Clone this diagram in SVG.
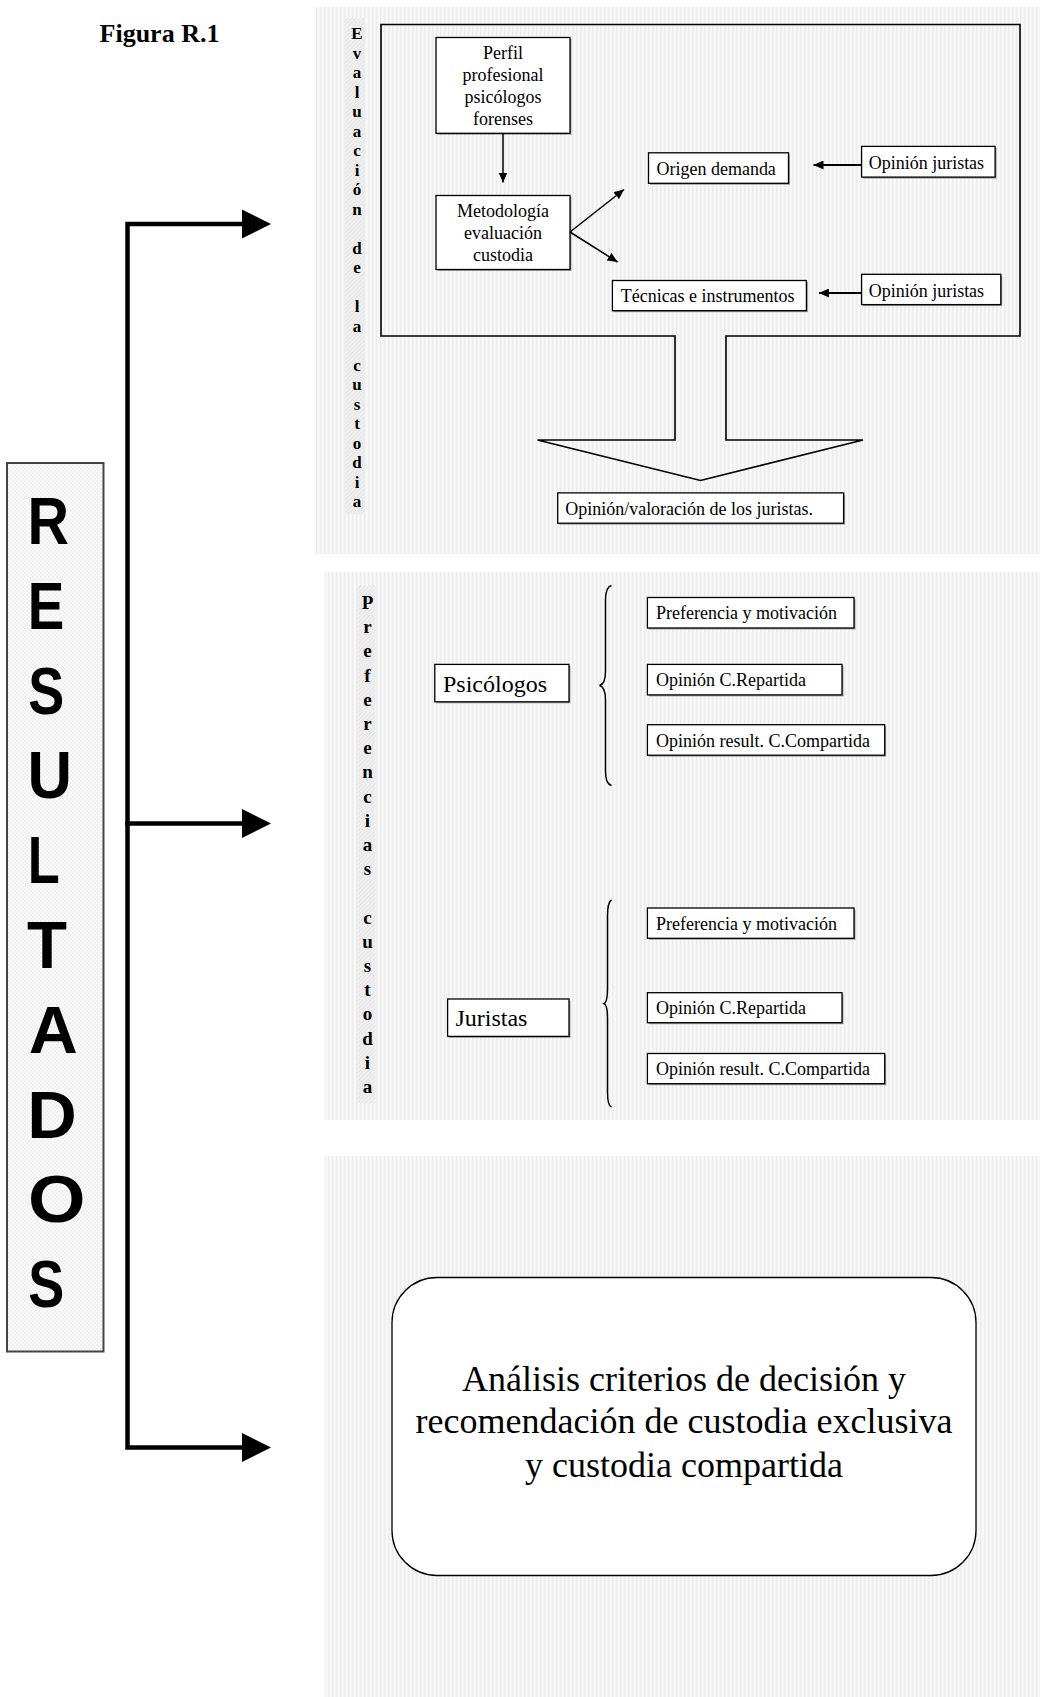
<svg xmlns="http://www.w3.org/2000/svg" width="1040" height="1697" viewBox="0 0 1040 1697">
<style>
.bg{fill:url(#stripes)}
.strip{fill:url(#hatch)}
.box{fill:#ffffff;stroke:#000;stroke-width:1.3}
.sh{fill:#a0a0a0}
.ln{fill:none;stroke:#000;stroke-width:1.5}
.lnt{fill:none;stroke:#000;stroke-width:2}
.thick{fill:none;stroke:#000;stroke-width:4.5;stroke-linejoin:miter;stroke-linecap:square}
.t{font-family:"Liberation Serif","Times New Roman",serif;font-size:18px;fill:#000}
.tb{font-family:"Liberation Serif","Times New Roman",serif;font-weight:bold;fill:#000}
.big{font-family:"Liberation Serif","Times New Roman",serif;font-size:24px;fill:#000}
.huge{font-family:"Liberation Serif","Times New Roman",serif;font-size:36px;fill:#000}
.res{font-family:"Liberation Sans",Arial,sans-serif;font-weight:bold;font-size:66px;fill:#000}
</style>
<defs>
<pattern id="stripes" width="4" height="4" patternUnits="userSpaceOnUse"><rect width="4" height="4" fill="#f7f7f7"/><rect width="1.5" height="4" fill="#ededed"/></pattern>
<pattern id="hatch" width="3" height="3" patternUnits="userSpaceOnUse" patternTransform="rotate(45)"><rect width="3" height="3" fill="#efefef"/><rect width="1" height="3" fill="#e6e6e6"/></pattern>
<pattern id="dots" width="4" height="4" patternUnits="userSpaceOnUse"><rect width="4" height="4" fill="#fcfcfc"/><circle cx="1" cy="1" r="0.8" fill="#e0e0e0"/><circle cx="3" cy="3" r="0.8" fill="#e0e0e0"/></pattern>
<marker id="ah" markerUnits="userSpaceOnUse" markerWidth="11" markerHeight="9" refX="10" refY="4.5" orient="auto"><path d="M0,0 L10,4.5 L0,9 Z" fill="#000"/></marker>
</defs>

<rect width="1040" height="1697" fill="#ffffff"/>

<g id="title">
<text class="tb" x="159.5" y="42" font-size="26" text-anchor="middle">Figura R.1</text>
</g>

<g id="resultados">
<rect x="7" y="463" width="96.5" height="888.5" fill="url(#dots)" stroke="#444" stroke-width="2"/>
<text class="res" x="48.2" y="544" text-anchor="middle" textLength="41.5" lengthAdjust="spacingAndGlyphs">R</text>
<text class="res" x="45.9" y="628.8" text-anchor="middle" textLength="36.5" lengthAdjust="spacingAndGlyphs">E</text>
<text class="res" x="46.2" y="713.6" text-anchor="middle" textLength="36" lengthAdjust="spacingAndGlyphs">S</text>
<text class="res" x="49.7" y="798.4" text-anchor="middle" textLength="44.5" lengthAdjust="spacingAndGlyphs">U</text>
<text class="res" x="43.7" y="883.2" text-anchor="middle" textLength="32" lengthAdjust="spacingAndGlyphs">L</text>
<text class="res" x="47" y="968" text-anchor="middle" textLength="40" lengthAdjust="spacingAndGlyphs">T</text>
<text class="res" x="53.3" y="1052.8" text-anchor="middle" textLength="49" lengthAdjust="spacingAndGlyphs">A</text>
<text class="res" x="52" y="1137.6" text-anchor="middle" textLength="49.5" lengthAdjust="spacingAndGlyphs">D</text>
<text class="res" x="56.7" y="1222.4" text-anchor="middle" textLength="57.5" lengthAdjust="spacingAndGlyphs">O</text>
<text class="res" x="46.2" y="1307.2" text-anchor="middle" textLength="36" lengthAdjust="spacingAndGlyphs">S</text>
</g>

<g id="panel-evaluacion">
<rect class="bg" x="314" y="7" width="726" height="547"/>
<rect class="strip" x="345" y="18" width="19.5" height="496"/>
<text class="tb" font-size="17" text-anchor="middle">
<tspan x="357" y="39.3">E</tspan><tspan x="357" y="58.8">v</tspan><tspan x="357" y="78.3">a</tspan><tspan x="357" y="97.8">l</tspan><tspan x="357" y="117.3">u</tspan><tspan x="357" y="136.8">a</tspan><tspan x="357" y="156.3">c</tspan><tspan x="357" y="175.8">i</tspan><tspan x="357" y="195.3">ó</tspan><tspan x="357" y="214.8">n</tspan><tspan x="357" y="253.8">d</tspan><tspan x="357" y="273.3">e</tspan><tspan x="357" y="312.3">l</tspan><tspan x="357" y="331.8">a</tspan><tspan x="357" y="370.8">c</tspan><tspan x="357" y="390.3">u</tspan><tspan x="357" y="409.8">s</tspan><tspan x="357" y="429.3">t</tspan><tspan x="357" y="448.8">o</tspan><tspan x="357" y="468.3">d</tspan><tspan x="357" y="487.8">i</tspan><tspan x="357" y="507.3">a</tspan>
</text>
<path id="frame-arrow" d="M381,24.5 H1020 V336 H726 V440 H863 L700.5,480.5 L537.5,440 H675 V336 H381 Z" fill="none" stroke="#000" stroke-width="1.6"/>
</g>

<g id="node-perfil">
<rect class="sh" x="437.5" y="39" width="134" height="95.8"/>
<rect class="box" x="436" y="37.5" width="134" height="95.8"/>
<text class="t" text-anchor="middle" transform="translate(503 58.5) scale(1 1.08)">Perfil</text>
<text class="t" text-anchor="middle" transform="translate(503 80.5) scale(1 1.08)">profesional</text>
<text class="t" text-anchor="middle" transform="translate(503 102.5) scale(1 1.08)">psicólogos</text>
<text class="t" text-anchor="middle" transform="translate(503 124.5) scale(1 1.08)">forenses</text>
</g>

<g id="node-metodologia">
<rect class="sh" x="437.5" y="197" width="134" height="74"/>
<rect class="box" x="436" y="195.5" width="134" height="74"/>
<text class="t" text-anchor="middle" transform="translate(503 217) scale(1 1.08)">Metodología</text>
<text class="t" text-anchor="middle" transform="translate(503 239) scale(1 1.08)">evaluación</text>
<text class="t" text-anchor="middle" transform="translate(503 261) scale(1 1.08)">custodia</text>
</g>

<g id="node-origen">
<rect class="sh" x="650" y="154.3" width="140" height="30.5"/>
<rect class="box" x="648.5" y="152.8" width="140" height="30.5"/>
<text class="t" transform="translate(656.5 175) scale(1 1.08)">Origen demanda</text>
</g>

<g id="node-opinion1">
<rect class="sh" x="863.1" y="147.9" width="133.5" height="30.7"/>
<rect class="box" x="861.6" y="146.4" width="133.5" height="30.7"/>
<text class="t" transform="translate(868.7 169) scale(1 1.08)">Opinión juristas</text>
</g>

<g id="node-tecnicas">
<rect class="sh" x="613.9" y="282" width="194" height="30.2"/>
<rect class="box" x="612.4" y="280.5" width="194" height="30.2"/>
<text class="t" transform="translate(620.7 301.5) scale(1 1.08)">Técnicas e instrumentos</text>
</g>

<g id="node-opinion2">
<rect class="sh" x="863.1" y="275.8" width="139.2" height="30.3"/>
<rect class="box" x="861.6" y="274.3" width="139.2" height="30.3"/>
<text class="t" transform="translate(868.7 296.5) scale(1 1.08)">Opinión juristas</text>
</g>

<g id="node-valoracion">
<rect class="sh" x="559.2" y="494.4" width="285.9" height="30.3"/>
<rect class="box" x="557.7" y="492.9" width="285.9" height="30.3"/>
<text class="t" transform="translate(565.2 515) scale(1 1.08)">Opinión/valoración de los juristas.</text>
</g>

<g id="panel-preferencias">
<rect class="bg" x="324.6" y="572" width="715.4" height="548"/>
<rect class="strip" x="357" y="585.5" width="18.5" height="518"/>
<text class="tb" font-size="19" text-anchor="middle">
<tspan x="367.5" y="609">P</tspan><tspan x="367.5" y="633.2">r</tspan><tspan x="367.5" y="657.4">e</tspan><tspan x="367.5" y="681.6">f</tspan><tspan x="367.5" y="705.8">e</tspan><tspan x="367.5" y="730">r</tspan><tspan x="367.5" y="754.2">e</tspan><tspan x="367.5" y="778.4">n</tspan><tspan x="367.5" y="802.6">c</tspan><tspan x="367.5" y="826.8">i</tspan><tspan x="367.5" y="851">a</tspan><tspan x="367.5" y="875.2">s</tspan><tspan x="367.5" y="923.6">c</tspan><tspan x="367.5" y="947.8">u</tspan><tspan x="367.5" y="972">s</tspan><tspan x="367.5" y="996.2">t</tspan><tspan x="367.5" y="1020.4">o</tspan><tspan x="367.5" y="1044.6">d</tspan><tspan x="367.5" y="1068.8">i</tspan><tspan x="367.5" y="1093">a</tspan>
</text>
<path id="brace-psicologos" class="ln" stroke-width="1.3" d="M611.5,585.5 Q605.5,587 605.5,600 L605.5,671 Q605.5,684 599.5,685.5 Q605.5,687 605.5,700 L605.5,771 Q605.5,784 611.5,785.5"/>
<path id="brace-juristas" class="ln" stroke-width="1.3" d="M611.5,900 Q607.5,902 607.5,916 L607.5,989 Q607.5,1002 604,1003.6 Q607.5,1005 607.5,1018 L607.5,1092 Q607.5,1106 611.5,1107"/>
</g>

<g id="node-psicologos">
<rect class="sh" x="436.3" y="665.9" width="134.2" height="37.4"/>
<rect class="box" x="434.8" y="664.4" width="134.2" height="37.4"/>
<text class="big" x="443" y="691.5">Psicólogos</text>
</g>
<g id="node-psi-pref">
<rect class="sh" x="648.9" y="599" width="206.6" height="30.5"/>
<rect class="box" x="647.4" y="597.5" width="206.6" height="30.5"/>
<text class="t" x="656" y="619">Preferencia y motivación</text>
</g>
<g id="node-psi-rep">
<rect class="sh" x="648.9" y="665.9" width="194.6" height="30.5"/>
<rect class="box" x="647.4" y="664.4" width="194.6" height="30.5"/>
<text class="t" x="656" y="686">Opinión C.Repartida</text>
</g>
<g id="node-psi-comp">
<rect class="sh" x="648.9" y="726.2" width="237.3" height="30.5"/>
<rect class="box" x="647.4" y="724.7" width="237.3" height="30.5"/>
<text class="t" x="656" y="746.5">Opinión result. C.Compartida</text>
</g>

<g id="node-juristas">
<rect class="sh" x="449.1" y="1000.5" width="121.4" height="37.4"/>
<rect class="box" x="447.6" y="999" width="121.4" height="37.4"/>
<text class="big" x="455.4" y="1026">Juristas</text>
</g>
<g id="node-jur-pref">
<rect class="sh" x="648.9" y="909.5" width="206.6" height="30.3"/>
<rect class="box" x="647.4" y="908" width="206.6" height="30.3"/>
<text class="t" x="656" y="929.5">Preferencia y motivación</text>
</g>
<g id="node-jur-rep">
<rect class="sh" x="648.9" y="994.2" width="194.6" height="30"/>
<rect class="box" x="647.4" y="992.7" width="194.6" height="30"/>
<text class="t" x="656" y="1014">Opinión C.Repartida</text>
</g>
<g id="node-jur-comp">
<rect class="sh" x="648.9" y="1055" width="237.3" height="30.2"/>
<rect class="box" x="647.4" y="1053.5" width="237.3" height="30.2"/>
<text class="t" x="656" y="1075">Opinión result. C.Compartida</text>
</g>

<g id="panel-analisis">
<rect class="bg" x="324.6" y="1155.7" width="715.4" height="541.3"/>
</g>
<g id="node-analisis">
<rect x="392" y="1277.5" width="584" height="298" rx="45" ry="45" fill="#ffffff" stroke="#000" stroke-width="1.3"/>
<text class="huge" x="684" y="1390.5" text-anchor="middle">Análisis criterios de decisión y</text>
<text class="huge" x="684" y="1433.3" text-anchor="middle">recomendación de custodia exclusiva</text>
<text class="huge" x="684" y="1476.5" text-anchor="middle">y custodia compartida</text>
</g>

<g id="connectors">
<path class="thick" d="M242,224 H127.5 V1447.5 H242"/>
<path class="thick" d="M127.5,823.5 H242"/>
<polygon points="242,209.5 271,224 242,238.5" fill="#000"/>
<polygon points="242,809 271,823.5 242,838" fill="#000"/>
<polygon points="242,1433 271,1447.5 242,1462" fill="#000"/>
<line class="ln" x1="503" y1="133.3" x2="503" y2="182.5" marker-end="url(#ah)"/>
<line class="ln" x1="570" y1="232" x2="624" y2="189.5" marker-end="url(#ah)"/>
<line class="ln" x1="570" y1="232" x2="617.5" y2="262" marker-end="url(#ah)"/>
<line class="lnt" x1="861.6" y1="165" x2="813.5" y2="165" marker-end="url(#ah)"/>
<line class="lnt" x1="861.6" y1="293" x2="819" y2="293" marker-end="url(#ah)"/>
</g>
</svg>
